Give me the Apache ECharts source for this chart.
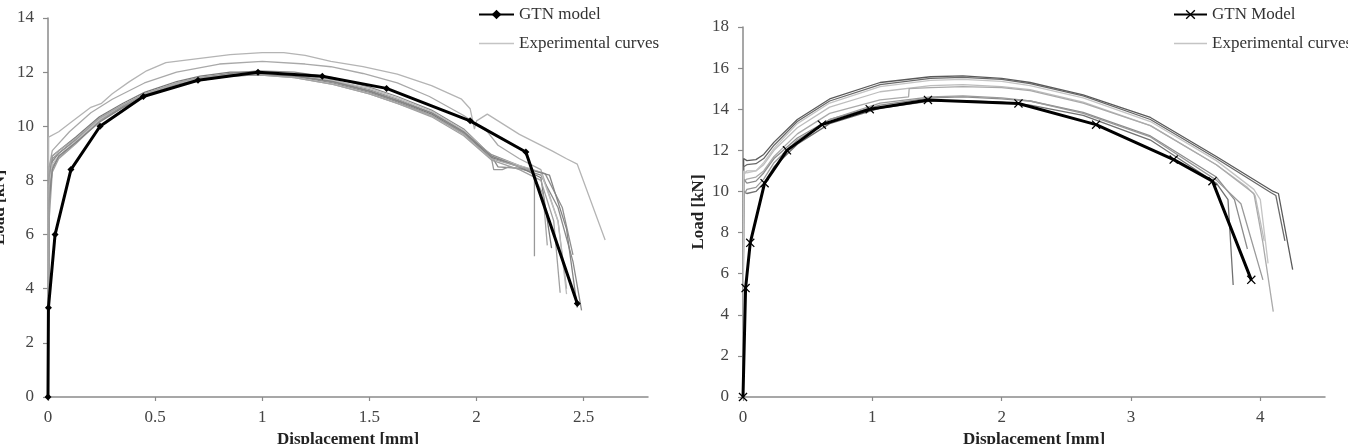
<!DOCTYPE html>
<html>
<head>
<meta charset="utf-8">
<script src="https://cdn.jsdelivr.net/npm/echarts@6/dist/echarts.min.js"></script>
<style>
html,body{margin:0;padding:0;background:#fff;}
.chart{width:1348px;height:444px;}
</style>
</head>
<body>
<div class="chart"></div>
<script>
// 左图 GTN model
var gtnLeft = [[0,0],[0.002,3.3],[0.033,6.0],[0.107,8.4],[0.243,10.0],[0.445,11.1],[0.70,11.7],[0.98,12.0],[1.28,11.85],[1.58,11.4],[1.97,10.2],[2.23,9.05],[2.47,3.45]];
// 左图 实验曲线
var expL1 = [[0,0],[0.003,9.6],[0.05,9.8],[0.1,10.1],[0.2,10.7],[0.25,10.85],[0.3,11.2],[0.38,11.65],[0.46,12.05],[0.55,12.35],[0.7,12.5],[0.85,12.65],[1.0,12.72],[1.1,12.72],[1.2,12.62],[1.32,12.4],[1.47,12.2],[1.63,11.93],[1.79,11.5],[1.93,11.0],[1.97,10.65],[1.99,9.9],[2.0,10.2],[2.05,10.45],[2.2,9.7],[2.35,9.1],[2.42,8.8],[2.47,8.6],[2.6,5.8]];
var expL2 = [[0,0],[0.003,8.4],[0.02,9.1],[0.1,9.8],[0.2,10.5],[0.3,11.0],[0.45,11.6],[0.6,12.0],[0.8,12.3],[1.0,12.4],[1.2,12.3],[1.32,12.2],[1.47,11.95],[1.63,11.6],[1.78,11.1],[1.94,10.4],[2.05,9.8],[2.1,9.3],[2.2,8.8],[2.3,8.4],[2.38,6.5],[2.42,4.0]];
var expL3 = [[0,0],[0.005,7.5],[0.02,8.7],[0.05,9.0],[0.13,9.5],[0.24,10.3],[0.35,10.8],[0.45,11.2],[0.6,11.6],[0.71,11.8],[0.85,11.95],[0.98,12.05],[1.15,12.0],[1.33,11.8],[1.5,11.45],[1.63,11.1],[1.79,10.6],[1.94,9.9],[2.07,8.9],[2.1,8.5],[2.2,8.45],[2.3,8.2],[2.38,7.0],[2.45,5.0],[2.49,3.2]];
var expL4 = [[0,0],[0.005,7.0],[0.02,8.5],[0.05,8.85],[0.13,9.4],[0.24,10.2],[0.35,10.75],[0.45,11.15],[0.6,11.55],[0.71,11.75],[0.85,11.9],[0.98,11.95],[1.15,11.9],[1.33,11.7],[1.5,11.35],[1.63,11.0],[1.79,10.5],[1.94,9.8],[2.07,8.8],[2.08,8.4],[2.12,8.4],[2.15,8.5],[2.25,8.35],[2.27,8.2],[2.27,5.2]];
var expL5 = [[0,0],[0.005,8.0],[0.02,8.9],[0.05,9.1],[0.13,9.6],[0.24,10.35],[0.35,10.85],[0.45,11.25],[0.6,11.65],[0.71,11.85],[0.85,12.0],[0.98,12.0],[1.15,11.9],[1.33,11.65],[1.5,11.3],[1.63,10.95],[1.79,10.45],[1.94,9.75],[2.07,8.85],[2.2,8.5],[2.3,8.1],[2.35,5.5]];
var expL6 = [[0,0],[0.005,6.5],[0.02,8.3],[0.05,8.8],[0.13,9.35],[0.24,10.2],[0.35,10.7],[0.45,11.1],[0.6,11.5],[0.71,11.7],[0.85,11.85],[0.98,11.9],[1.15,11.8],[1.33,11.55],[1.5,11.2],[1.63,10.85],[1.79,10.35],[1.94,9.65],[2.07,8.75],[2.2,8.4],[2.3,8.0],[2.36,6.5],[2.39,3.85]];
var expL7 = [[0,0],[0.005,8.2],[0.02,8.8],[0.05,9.0],[0.13,9.5],[0.24,10.25],[0.35,10.75],[0.45,11.2],[0.6,11.6],[0.71,11.8],[0.85,11.9],[0.98,11.95],[1.15,11.85],[1.33,11.6],[1.5,11.25],[1.63,10.9],[1.79,10.4],[1.94,9.75],[2.07,8.95],[2.2,8.55],[2.32,8.25],[2.4,7.0],[2.45,5.25]];
var expL8 = [[0,0],[0.005,7.8],[0.02,8.6],[0.05,8.9],[0.13,9.45],[0.24,10.25],[0.35,10.8],[0.45,11.2],[0.6,11.6],[0.71,11.75],[0.85,11.9],[0.98,11.95],[1.15,11.9],[1.33,11.7],[1.5,11.4],[1.63,11.05],[1.79,10.55],[1.94,9.85],[2.07,8.9],[2.2,8.55],[2.3,8.3],[2.38,6.5],[2.42,3.8]];
var expL9 = [[0,0],[0.005,7.2],[0.02,8.4],[0.05,8.9],[0.13,9.4],[0.24,10.15],[0.35,10.7],[0.45,11.1],[0.6,11.5],[0.71,11.7],[0.85,11.85],[0.98,11.9],[1.15,11.85],[1.33,11.65],[1.5,11.3],[1.63,10.95],[1.79,10.5],[1.94,9.8],[2.07,8.9],[2.2,8.5],[2.34,8.2],[2.42,6.2],[2.47,3.3]];
var expL10 = [[0,0],[0.005,8.5],[0.02,8.9],[0.05,9.1],[0.13,9.55],[0.24,10.3],[0.35,10.8],[0.45,11.2],[0.6,11.6],[0.71,11.8],[0.85,11.9],[0.98,11.9],[1.15,11.8],[1.33,11.55],[1.5,11.2],[1.63,10.85],[1.79,10.4],[1.94,9.7],[2.07,8.8],[2.25,8.4],[2.31,7.5],[2.33,5.6]];

// 右图 GTN Model
var gtnRight = [[0,0],[0.02,5.3],[0.056,7.5],[0.167,10.4],[0.34,12.0],[0.61,13.25],[0.98,14.0],[1.43,14.45],[2.13,14.28],[2.73,13.25],[3.33,11.55],[3.63,10.5],[3.93,5.7]];
// 右图 实验曲线
var expR1 = [[0,0],[0.005,11.6],[0.03,11.5],[0.1,11.55],[0.16,11.8],[0.24,12.4],[0.42,13.5],[0.67,14.5],[1.06,15.3],[1.45,15.58],[1.7,15.62],[2.0,15.5],[2.22,15.3],[2.63,14.7],[3.15,13.6],[3.66,11.7],[4.1,10.0],[4.14,9.9],[4.25,6.2]];
var expR2 = [[0,0],[0.005,11.2],[0.03,11.3],[0.1,11.35],[0.16,11.6],[0.24,12.25],[0.42,13.4],[0.67,14.4],[1.06,15.2],[1.45,15.5],[1.7,15.55],[2.0,15.45],[2.22,15.25],[2.63,14.65],[3.15,13.5],[3.66,11.6],[4.08,9.95],[4.12,9.8],[4.19,7.6]];
var expR3 = [[0,0],[0.005,10.8],[0.03,11.0],[0.1,11.0],[0.16,11.3],[0.24,12.0],[0.42,13.1],[0.67,14.1],[1.06,14.85],[1.45,15.15],[1.7,15.2],[2.0,15.1],[2.22,14.95],[2.63,14.35],[3.15,13.2],[3.66,11.3],[3.9,10.2],[3.96,9.8],[4.03,7.6]];
var expR4 = [[0,0],[0.005,10.5],[0.03,10.6],[0.1,10.7],[0.16,11.0],[0.24,11.7],[0.42,12.8],[0.67,13.8],[1.06,14.45],[1.28,14.6],[1.285,15.0],[1.45,15.05],[1.7,15.1],[2.0,15.05],[2.22,14.9],[2.63,14.3],[3.15,13.2],[3.66,11.3],[3.95,9.9],[4.02,7.5],[4.1,4.15]];
var expR5 = [[0,0],[0.005,10.0],[0.03,9.9],[0.1,10.0],[0.16,10.4],[0.24,11.2],[0.42,12.3],[0.67,13.3],[1.06,14.05],[1.45,14.4],[1.7,14.42],[2.0,14.35],[2.22,14.2],[2.63,13.7],[3.15,12.5],[3.66,10.4],[3.75,9.6],[3.79,5.45]];
var expR6 = [[0,0],[0.005,10.6],[0.03,10.4],[0.1,10.5],[0.16,10.9],[0.24,11.6],[0.42,12.6],[0.67,13.5],[1.06,14.2],[1.45,14.55],[1.7,14.6],[2.0,14.5],[2.22,14.4],[2.63,13.85],[3.15,12.7],[3.66,10.7],[3.8,9.6],[3.9,7.2]];
var expR7 = [[0,0],[0.005,9.8],[0.03,10.1],[0.1,10.2],[0.16,10.6],[0.24,11.4],[0.42,12.5],[0.67,13.5],[1.06,14.3],[1.45,14.6],[1.7,14.65],[2.0,14.55],[2.22,14.4],[2.63,13.8],[3.15,12.65],[3.66,10.55],[3.85,9.4],[4.02,5.7]];
var expR8 = [[0,0],[0.005,11.0],[0.03,10.9],[0.1,11.0],[0.16,11.4],[0.24,12.1],[0.42,13.3],[0.67,14.3],[1.06,15.1],[1.45,15.4],[1.7,15.45],[2.0,15.35],[2.22,15.15],[2.63,14.55],[3.15,13.4],[3.66,11.5],[3.95,10.1],[4.0,9.6],[4.06,6.5]];

var leftExp = [expL1, expL2, expL3, expL4, expL5, expL6, expL7, expL8, expL9, expL10];
var leftColors = ['#b4b4b4', '#a9a9a9', '#8a8a8a', '#999999', '#7a7a7a', '#a0a0a0', '#909090', '#bdbdbd', '#848484', '#a5a5a5'];
var rightExp = [expR1, expR2, expR3, expR4, expR5, expR6, expR7, expR8];
var rightColors = ['#5a5a5a', '#6a6a6a', '#bdbdbd', '#aaaaaa', '#707070', '#8c8c8c', '#9a9a9a', '#c4c4c4'];

var xTicksLeft = [0, 0.5, 1, 1.5, 2, 2.5];
var xTicksRight = [0, 1, 2, 3, 4];

(function(){
  var myChart = echarts.init(document.querySelector('.chart'));
  var font = "'Liberation Serif', 'Times New Roman', serif";
  var axisLine = { lineStyle: { color: '#8a8a8a', width: 1.5 } };

  function xAxis(idx, max, interval, ticks){
    return {
      gridIndex: idx, type: 'value', min: 0, max: max, interval: interval,
      name: 'Displacement [mm]', nameLocation: 'middle', nameGap: 31,
      nameTextStyle: { fontFamily: font, fontSize: 17, fontWeight: 'bold', color: '#222' },
      axisLine: axisLine,
      axisTick: { show: true, length: 4, customValues: ticks, lineStyle: { color: '#8a8a8a', width: 1.2 } },
      axisLabel: { fontFamily: font, fontSize: 17, color: '#444', margin: 12, customValues: ticks },
      splitLine: { show: false }
    };
  }
  function yAxis(idx, max, gap){
    return {
      gridIndex: idx, type: 'value', min: 0, max: max, interval: 2,
      name: 'Load [kN]', nameLocation: 'middle', nameGap: gap,
      nameTextStyle: { fontFamily: font, fontSize: 17, fontWeight: 'bold', color: '#222' },
      axisLine: { show: true, lineStyle: { color: '#8a8a8a', width: 1.5 } },
      axisTick: { show: true, length: 5, lineStyle: { color: '#8a8a8a', width: 1.2 } },
      axisLabel: { fontFamily: font, fontSize: 17, color: '#444', margin: 14 },
      splitLine: { show: false }
    };
  }

  var series = [];
  for (var i = 0; i < leftExp.length; i++) {
    series.push({
      name: 'Experimental curves', type: 'line', xAxisIndex: 0, yAxisIndex: 0,
      data: leftExp[i], showSymbol: false, symbol: 'none', silent: true,
      lineStyle: { color: leftColors[i], width: 1.3 }, z: 2
    });
  }
  for (var k = 0; k < rightExp.length; k++) {
    series.push({
      name: 'Experimental curves', type: 'line', xAxisIndex: 1, yAxisIndex: 1,
      data: rightExp[k], showSymbol: false, symbol: 'none', silent: true,
      lineStyle: { color: rightColors[k], width: 1.3 }, z: 2
    });
  }
  series.push({
    name: 'GTN model', type: 'line', xAxisIndex: 0, yAxisIndex: 0, data: gtnLeft,
    symbol: 'diamond', symbolSize: 7, showSymbol: true,
    lineStyle: { color: '#000', width: 3 }, itemStyle: { color: '#000' }, z: 5
  });
  series.push({
    name: 'GTN Model', type: 'line', xAxisIndex: 1, yAxisIndex: 1, data: gtnRight,
    symbol: 'path://M0,1L1,0L5,4L9,0L10,1L6,5L10,9L9,10L5,6L1,10L0,9L4,5Z', symbolSize: 9, showSymbol: true,
    lineStyle: { color: '#000', width: 3 }, itemStyle: { color: '#000' }, z: 5
  });

  var legendText = { fontFamily: font, fontSize: 17, color: '#333', lineHeight: 17 };
  // 图例里实验曲线只画一条细灰线
  var expLegend = {
    name: 'Experimental curves',
    icon: 'path://M0,0L40,0L40,1.6L0,1.6Z',
    itemStyle: { color: '#c4c4c4', borderWidth: 0 }
  };

  var option = {
    animation: false,
    grid: [
      { left: 48, top: 18, width: 600, height: 379, outerBoundsMode: 'none' },
      { left: 743, top: 27, width: 582, height: 370, outerBoundsMode: 'none' }
    ],
    legend: [
      { left: 478, top: 6, padding: 0, orient: 'vertical', itemWidth: 35, itemHeight: 12, itemGap: 12,
        data: ['GTN model', expLegend], textStyle: legendText, selectedMode: false },
      { left: 1173, top: 6, padding: 0, orient: 'vertical', itemWidth: 33, itemHeight: 12, itemGap: 12,
        data: ['GTN Model', expLegend], textStyle: legendText, selectedMode: false }
    ],
    xAxis: [xAxis(0, 2.8, 0.5, xTicksLeft), xAxis(1, 4.5, 1, xTicksRight)],
    yAxis: [yAxis(0, 14, 40), yAxis(1, 18, 36)],
    series: series
  };
  myChart.setOption(option);
  window.addEventListener('resize', function(){
    myChart.resize();
  });
})();
</script>
</body>
</html>
